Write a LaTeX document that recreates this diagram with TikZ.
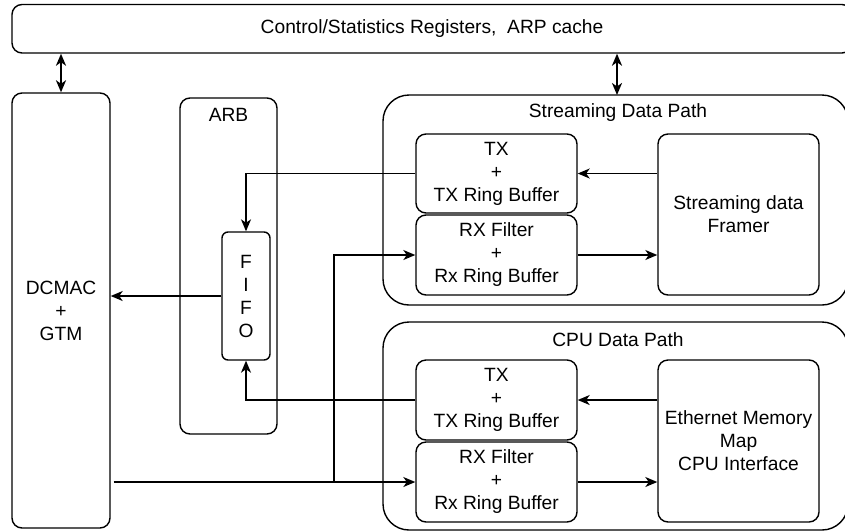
\documentclass[tikz,border=0pt]{standalone}
\usepackage{fontspec}
\setmainfont{Liberation Sans}
\usetikzlibrary{arrows.meta}
\tikzstyle{diagram}=[x=1pt, y=-1pt, font=\fontsize{19.2}{23}\selectfont]
\tikzstyle{block}=[rectangle, draw, rounded corners=10pt, line width=1.4pt, align=center, inner sep=0pt]
\tikzstyle{datapath}=[block, rounded corners=26pt, minimum width=465pt]
\tikzstyle{ring}=[block, minimum width=161pt, minimum height=80pt]
\tikzstyle{unit}=[block, minimum width=161pt, minimum height=161pt]
\tikzstyle{caption}=[inner sep=0pt]
\tikzstyle{edge}=[-{Stealth[length=12pt, width=10pt, inset=3.5pt]}, line width=1.4pt]
\tikzstyle{bus}=[{Stealth[length=12pt, width=10pt, inset=3.5pt]}-{Stealth[length=12pt, width=10pt, inset=3.5pt]}, line width=2pt]
\newcommand{\ringX}{496.5}
\newcommand{\unitX}{738.5}
\newcommand{\pathX}{615.5}
\newcommand{\splitX}{334}

\begin{document}
\begin{tikzpicture}[diagram]
	\useasboundingbox (0,0) rectangle (845,531);
	\clip (0,0) rectangle (845,531);

	%The register bar
	\draw (432,28.75) node[block, minimum width=840pt, minimum height=48.5pt] (regs) {Control/Statistics Registers,\ \ ARP cache};

	%The MAC and the arbiter
	\draw (61,310.5) node[block, minimum width=98pt, minimum height=435pt] (dcmac) {DCMAC\\+\\GTM};
	\draw (228.5,266) node[block, minimum width=97pt, minimum height=336pt] (arb) {};
	\node[caption] at (228.5,115) (arbT) {ARB};
	\draw (246,296) node[block, rounded corners=6pt, minimum width=48pt, minimum height=128pt] (fifo) {F\\I\\F\\O};

	%The streaming data path
	\draw (\pathX,200) node[datapath, minimum height=210pt] (stream) {};
	\node[caption] at (618,113) (streamT) {Streaming Data Path};
	\draw (\ringX,173.5) node[ring, minimum height=79pt] (sTX) {TX\\+\\TX Ring Buffer};
	\draw (\ringX,255) node[ring] (sRX) {RX Filter\\+\\Rx Ring Buffer};
	\draw (\unitX,214.5) node[unit] (framer) {Streaming data\\Framer};

	%The CPU data path
	\draw (\pathX,426) node[datapath, minimum height=208pt] (cpu) {};
	\node[caption] at (618,340) (cpuT) {CPU Data Path};
	\draw (\ringX,400) node[ring] (cTX) {TX\\+\\TX Ring Buffer};
	\draw (\ringX,482) node[ring] (cRX) {RX Filter\\+\\Rx Ring Buffer};
	\draw (\unitX,441) node[unit, minimum height=162pt] (eth) {Ethernet Memory\\Map\\CPU Interface};

	%The register accesses
	\draw[bus] (regs.south -| dcmac.north) -- (dcmac.north);
	\draw[bus] (regs.south -| 617,0) -- (617,95);

	%The transmit side
	\draw[edge] (framer.west |- sTX.east) -- (sTX.east);
	\draw[edge] (eth.west |- cTX.east) -- (cTX.east);
	\draw[edge] (sTX.west) -| (fifo.north);
	\draw[edge] (cTX.west) -| (fifo.south);
	\draw[edge] (fifo.west) -- (dcmac.east |- fifo.west);

	%The receive side
	\coordinate (split) at (\splitX,482);
	\draw[edge] ([xshift=3pt]dcmac.east |- cRX.west) -- (cRX.west);
	\draw[edge] (split) |- (sRX.west);
	\draw[edge] (sRX.east) -- (framer.west |- sRX.east);
	\draw[edge] (cRX.east) -- (eth.west |- cRX.east);
\end{tikzpicture}
\end{document}
